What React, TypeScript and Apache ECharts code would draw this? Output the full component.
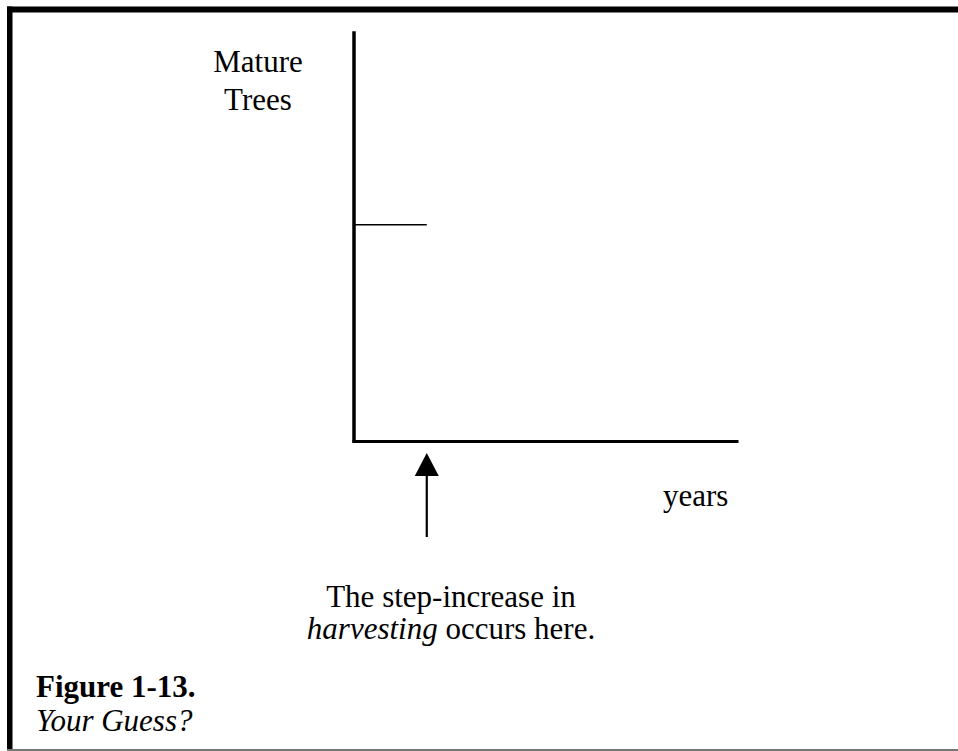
import React, { useEffect, useRef } from "react";
import * as echarts from "echarts";

// ---- data ----
const years: number[] = [0, 19];
const matureTrees: number[] = [53, 53];
const harvestStepYear = 19;
const yAxisTitle = "Mature\nTrees";
const xAxisTitle = "years";
const annotationLines = ["The step-increase in", "{i|harvesting} occurs here."];
const figureTitle = "Figure 1-13.";
const figureSubtitle = "Your Guess?";

const SERIF = "'Liberation Serif', 'Times New Roman', Times, serif";

export default function App() {
  const ref = useRef<HTMLDivElement>(null);

  useEffect(() => {
    if (!ref.current) return;
    const chart = echarts.init(ref.current, null, { renderer: "svg" });
    chart.setOption({
      animation: false,
      backgroundColor: "#ffffff",
      grid: { left: 354, top: 33, width: 383, height: 408, containLabel: false },
      xAxis: {
        type: "value",
        min: 0,
        max: 100,
        axisLine: { show: true, onZero: false, lineStyle: { color: "#000", width: 3, cap: "square" } },
        axisTick: { show: false },
        axisLabel: { show: false },
        splitLine: { show: false },
      },
      yAxis: {
        type: "value",
        min: 0,
        max: 100,
        axisLine: { show: true, onZero: false, lineStyle: { color: "#000", width: 3.5, cap: "square" } },
        axisTick: { show: false },
        axisLabel: { show: false },
        splitLine: { show: false },
      },
      series: [
        {
          type: "line",
          data: years.map((x, i) => [x, matureTrees[i]]),
          symbol: "none",
          lineStyle: { color: "#000", width: 1.6 },
          z: 1,
        },
      ],
    });

    const ax = chart.convertToPixel({ xAxisIndex: 0 }, harvestStepYear) as number;
    const fontN = `31px ${SERIF}`;

    chart.setOption({
      graphic: [
        // frame
        { type: "rect", shape: { x: 7, y: 6.5, width: 951, height: 6 }, style: { fill: "#000" }, silent: true },
        { type: "rect", shape: { x: 7, y: 6.5, width: 5.5, height: 745 }, style: { fill: "#000" }, silent: true },
        { type: "rect", shape: { x: 7, y: 749, width: 951, height: 2 }, style: { fill: "#777" }, silent: true },
        // arrow
        {
          type: "polygon",
          shape: { points: [[ax, 453], [ax - 12, 476], [ax + 12, 476]] },
          style: { fill: "#000" },
          silent: true,
        },
        {
          type: "line",
          shape: { x1: ax, y1: 470, x2: ax, y2: 537 },
          style: { stroke: "#000", lineWidth: 2.2 },
          silent: true,
        },
        // texts
        {
          type: "text",
          style: {
            text: yAxisTitle,
            x: 258,
            y: 80.5,
            font: fontN,
            lineHeight: 38,
            align: "center",
            verticalAlign: "middle",
            fill: "#000",
          },
        },
        {
          type: "text",
          style: { text: xAxisTitle, x: 663, y: 495.5, font: fontN, align: "left", verticalAlign: "middle", fill: "#000" },
        },
        {
          type: "text",
          style: {
            text: annotationLines.join("\n"),
            x: 451,
            y: 612,
            font: fontN,
            lineHeight: 32,
            align: "center",
            verticalAlign: "middle",
            fill: "#000",
            rich: {
              i: { fontStyle: "italic", fontSize: 31, fontFamily: SERIF, lineHeight: 32, fill: "#000" },
            },
          },
        },
        {
          type: "text",
          style: { text: figureTitle, x: 36, y: 686, font: `bold 31px ${SERIF}`, align: "left", verticalAlign: "middle", fill: "#000" },
        },
        {
          type: "text",
          style: { text: figureSubtitle, x: 36, y: 720, font: `italic 31px ${SERIF}`, align: "left", verticalAlign: "middle", fill: "#000" },
        },
      ],
    });

    return () => chart.dispose();
  }, []);

  return (
    <div
      ref={ref}
      style={{ position: "fixed", left: 0, top: 0, width: 958, height: 751, background: "#fff" }}
    />
  );
}
